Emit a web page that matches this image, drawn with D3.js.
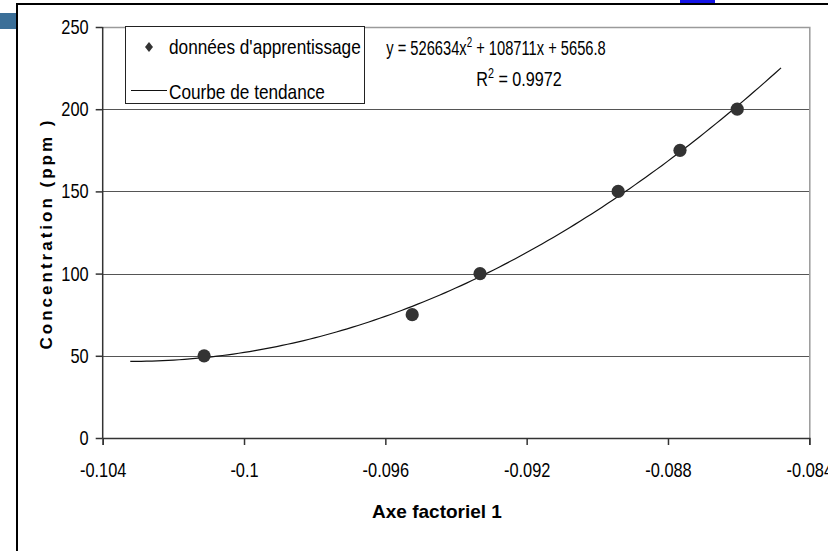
<!DOCTYPE html>
<html>
<head>
<meta charset="utf-8">
<script src="https://cdn.jsdelivr.net/npm/d3@7"></script>
<style>
  html, body { margin: 0; padding: 0; background: #fff; }
  svg { display: block; }
  text { font-family: "Liberation Sans", Arial, sans-serif; fill: #000; }
  .bold { font-weight: bold; }
</style>
</head>
<body>
<svg id="chart" width="828" height="551"></svg>
<script>
// Training samples: factorial-axis score vs. concentration
const axisScores = [-0.10113, -0.09524, -0.09332, -0.08941, -0.08766, -0.08604];
const concentrations = [50, 75, 100, 150, 175, 200];

// Polynomial trend (order 2) as given by the equation label: y = a x² + b x + c
const trendCoefficients = [526634, 108711, 5656.8];
const trendRange = [-0.10322, -0.0848];
const trendSteps = 120;

const xTicks = [-0.104, -0.1, -0.096, -0.092, -0.088, -0.084];
const yTicks = [0, 50, 100, 150, 200, 250];

const legendLabels = ["données d'apprentissage", "Courbe de tendance"];
const xTitle = "Axe factoriel 1";
const yTitle = "Concentration (ppm )";
const rSquared = "0.9972";

// Horizontal compression used for the chart's narrow lettering
const NARROW = 0.82;

const svg = d3.select("#chart");

// Plot area
const plot = { left: 102.7, right: 809.3, top: 27, bottom: 438 };

const x = d3.scaleLinear().domain([-0.104, -0.084]).range([plot.left, plot.right]);
const y = d3.scaleLinear().domain([0, 250]).range([plot.bottom, plot.top]);

// Narrow text placed at (px, py)
function narrowText(parent, px, py, size, anchor, squeeze) {
  return parent.append("text")
    .attr("transform", `translate(${px},${py}) scale(${squeeze || NARROW},1)`)
    .attr("text-anchor", anchor || "start")
    .attr("font-size", size);
}

// Window decorations around the chart object
svg.append("rect").attr("x", 0).attr("y", 13).attr("width", 16).attr("height", 16).attr("fill", "#3b6f98");
svg.append("rect").attr("x", 680).attr("y", 0).attr("width", 35).attr("height", 3).attr("fill", "#1414e6");
svg.append("line").attr("x1", 16).attr("x2", 828).attr("y1", 4).attr("y2", 4)
  .attr("stroke", "#000").attr("stroke-width", 2);
svg.append("line").attr("x1", 17).attr("x2", 17).attr("y1", 3).attr("y2", 551)
  .attr("stroke", "#000").attr("stroke-width", 2);

// Horizontal gridlines
svg.append("g")
  .selectAll("line")
  .data(yTicks.filter(d => d > 0 && d < 250))
  .join("line")
  .attr("x1", plot.left).attr("x2", plot.right)
  .attr("y1", d => Math.round(y(d)) + 0.5).attr("y2", d => Math.round(y(d)) + 0.5)
  .attr("stroke", "#555").attr("stroke-width", 1);

// Plot frame (top and right)
svg.append("path")
  .attr("d", `M${plot.left},${plot.top + 0.5}H${plot.right + 0.5}V${plot.bottom}`)
  .attr("fill", "none").attr("stroke", "#9a9a9a").attr("stroke-width", 1.5);

// Axes
const xAxis = d3.axisBottom(x).tickValues(xTicks).tickSize(7).tickPadding(18)
  .tickFormat(d => String(+d.toFixed(3)));
const gx = svg.append("g").attr("transform", `translate(0,${plot.bottom})`).call(xAxis);
gx.select(".domain").attr("stroke", "#333").attr("stroke-width", 1.5);
gx.selectAll(".tick line").attr("stroke", "#333").attr("stroke-width", 1.5);
gx.selectAll(".tick text").attr("font-size", 20).attr("font-family", null)
  .attr("transform", `scale(${NARROW},1)`);

const yAxis = d3.axisLeft(y).tickValues(yTicks).tickSize(7).tickPadding(6)
  .tickFormat(d3.format("d"));
const gy = svg.append("g").attr("transform", `translate(${plot.left},0)`).call(yAxis);
gy.select(".domain").attr("stroke", "#333").attr("stroke-width", 1.5).attr("d", `M0,${plot.top}V${plot.bottom}`);
gy.selectAll(".tick line").attr("stroke", "#333").attr("stroke-width", 1.5);
gy.selectAll(".tick text").attr("font-size", 20).attr("font-family", null)
  .attr("x", -14 / NARROW)
  .attr("transform", `scale(${NARROW},1)`);

// Trend curve computed from the stated coefficients
const [a, b, c] = trendCoefficients;
const trendPoints = d3.range(trendSteps + 1).map(i => {
  const xv = trendRange[0] + (trendRange[1] - trendRange[0]) * i / trendSteps;
  return [xv, a * xv * xv + b * xv + c];
});
svg.append("path")
  .datum(trendPoints)
  .attr("d", d3.line().x(d => x(d[0])).y(d => y(d[1])))
  .attr("fill", "none").attr("stroke", "#111").attr("stroke-width", 1.2);

// Data markers
const marker = d3.symbol().type(d3.symbolCircle).size(Math.PI * 6.6 * 6.6);
svg.append("g")
  .selectAll("path")
  .data(axisScores.map((s, i) => [s, concentrations[i]]))
  .join("path")
  .attr("transform", d => `translate(${x(d[0])},${y(d[1])})`)
  .attr("d", marker)
  .attr("fill", "#333");

// Legend
const legend = svg.append("g");
legend.append("rect").attr("x", 125.5).attr("y", 26.5).attr("width", 239).attr("height", 77)
  .attr("fill", "#fff").attr("stroke", "#222").attr("stroke-width", 1);
legend.append("path")
  .attr("transform", "translate(149,47)")
  .attr("d", "M0,-5L4,0L0,5L-4,0Z")
  .attr("fill", "#333");
legend.append("line").attr("x1", 131).attr("x2", 167).attr("y1", 90.5).attr("y2", 90.5)
  .attr("stroke", "#111").attr("stroke-width", 1);
narrowText(legend, 169, 54, 21).text(legendLabels[0]);
narrowText(legend, 169, 99, 21).text(legendLabels[1]);

// Equation and R² labels
const eq = narrowText(svg, 496, 55, 21, "middle", 0.7);
eq.append("tspan").text(`y = ${a}x`);
eq.append("tspan").attr("dy", -8).attr("font-size", 14).text("2");
eq.append("tspan").attr("dy", 8).text(` + ${b}x + ${c}`);

const r2 = narrowText(svg, 519, 86, 21, "middle", 0.77);
r2.append("tspan").text("R");
r2.append("tspan").attr("dy", -8).attr("font-size", 14).text("2");
r2.append("tspan").attr("dy", 8).text(` = ${rSquared}`);

// Axis titles
svg.append("text").attr("class", "bold")
  .attr("x", 437).attr("y", 518).attr("text-anchor", "middle")
  .attr("font-size", 19).text(xTitle);

svg.append("text").attr("class", "bold")
  .attr("transform", `translate(52,${(plot.top + plot.bottom) / 2 + 1}) rotate(-90)`)
  .attr("text-anchor", "middle").attr("font-size", 17).attr("letter-spacing", 3)
  .text(yTitle);
</script>
</body>
</html>
